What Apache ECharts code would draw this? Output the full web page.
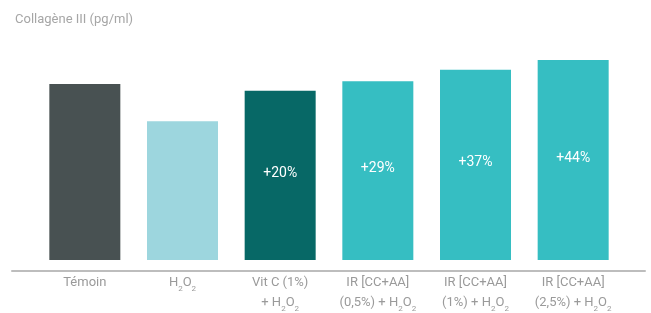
<!DOCTYPE html>
<html>
<head>
<meta charset="utf-8">
<script src="https://cdn.jsdelivr.net/npm/echarts@6/dist/echarts.min.js"></script>
<style>
  html, body { margin: 0; padding: 0; background: #fff; }
  #chart { width: 651px; height: 313px; }
</style>
</head>
<body>
<div id="chart"></div>
<script>
// données (unités arbitraires, pg/ml)
const categories = [
  'Témoin',
  'H{sub|2}O{sub|2}',
  'Vit C (1%)\n+ H{sub|2}O{sub|2}',
  'IR [CC+AA]\n(0,5%) + H{sub|2}O{sub|2}',
  'IR [CC+AA]\n(1%) + H{sub|2}O{sub|2}',
  'IR [CC+AA]\n(2,5%) + H{sub|2}O{sub|2}'
]
const values = [184, 145, 177, 187, 199, 209]
const gains = ['', '', '+20%', '+29%', '+37%', '+44%']
const barColors = ['#485152', '#9dd6de', '#076866', '#36bec2', '#36bec2', '#36bec2']

const chart = echarts.init(document.getElementById('chart'))
const font = 'Roboto, "Noto Sans", sans-serif'

const option = {
  animation: false,
  textStyle: { fontFamily: font },
  title: {
    text: 'Collagène III (pg/ml)',
    left: 10,
    top: 8,
    textStyle: { color: '#a6a6a6', fontSize: 13, fontWeight: 'normal', fontFamily: font }
  },
  grid: [
    { left: 36, right: 29, top: 40, bottom: 43 },
    { left: 12, right: 6, top: 40, bottom: 42 }
  ],
  xAxis: [
    {
      type: 'category',
      gridIndex: 0,
      data: categories,
      axisLine: { show: false },
      axisTick: { show: false },
      axisLabel: {
        color: '#9a9a9a',
        fontSize: 13,
        lineHeight: 20,
        margin: 13,
        interval: 0,
        rich: {
          sub: { fontSize: 8, color: '#9a9a9a', verticalAlign: 'bottom', padding: [9, 0, 0, 0] }
        }
      }
    },
    {
      type: 'value',
      gridIndex: 1,
      min: 0,
      max: 1,
      axisLine: { show: true, lineStyle: { color: '#bdbdbd', width: 2 } },
      axisTick: { show: false },
      axisLabel: { show: false },
      splitLine: { show: false }
    }
  ],
  yAxis: [
    { type: 'value', gridIndex: 0, min: 0, max: 230, show: false },
    { type: 'value', gridIndex: 1, show: false }
  ],
  series: [
    {
      type: 'bar',
      xAxisIndex: 0,
      yAxisIndex: 0,
      barWidth: 71,
      data: values.map((v, i) => ({ value: v, itemStyle: { color: barColors[i] } })),
      label: {
        show: true,
        position: 'inside',
        offset: [0, -2],
        color: '#fff',
        fontSize: 14,
        formatter: (p) => gains[p.dataIndex]
      }
    }
  ]
}

chart.setOption(option)
</script>
</body>
</html>
